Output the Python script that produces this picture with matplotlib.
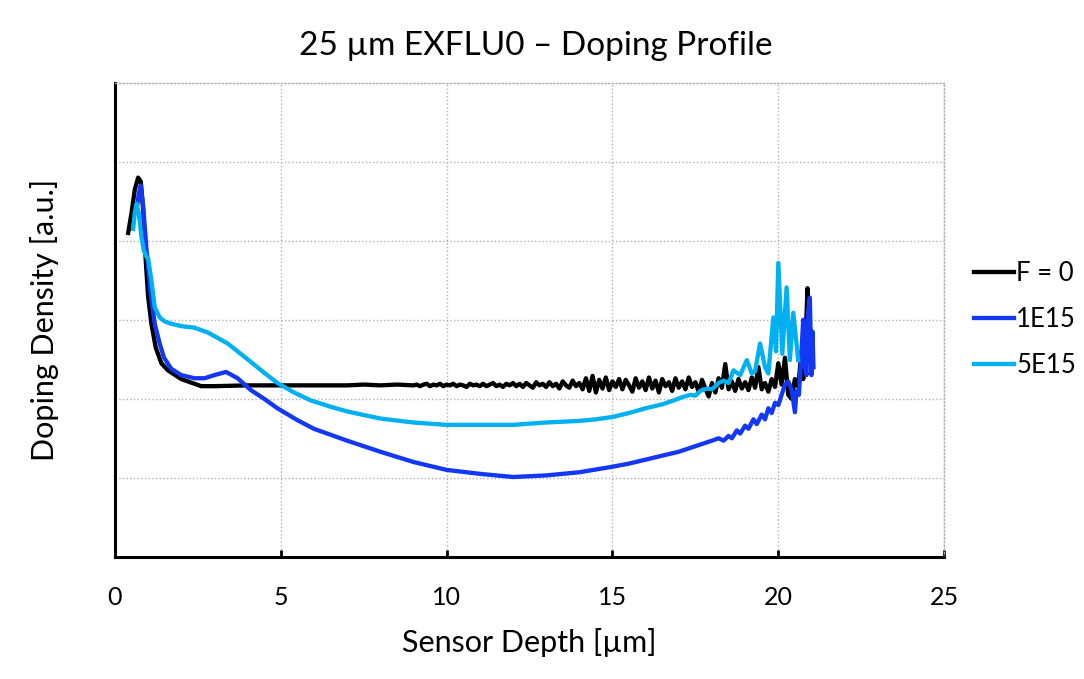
import matplotlib.pyplot as plt

plt.rcParams['font.family'] = ['Lato', 'DejaVu Sans']

# F = 0 (black)
x_f0 = [0.4, 0.5, 0.6, 0.7, 0.78, 0.85, 0.93, 1.0, 1.1, 1.23, 1.4, 1.6, 2.0, 2.6,
        3.0, 4.0, 5.0, 6.0, 7.0, 7.5, 8.0, 8.5] + \
       [round(9.0 + 0.1 * i, 2) for i in range(118)] + [20.75, 20.8, 20.88, 20.95, 21.0]
y_f0 = [4.10, 4.35, 4.65, 4.80, 4.75, 4.40, 3.75, 3.30, 2.95, 2.65, 2.45, 2.36, 2.25, 2.16,
        2.16, 2.17, 2.17, 2.17, 2.17, 2.18, 2.17, 2.18,
        2.17, 2.18, 2.16, 2.18, 2.19, 2.16, 2.18, 2.17, 2.19, 2.16, 2.18,
        2.17, 2.19, 2.16, 2.18, 2.17, 2.15, 2.19, 2.17, 2.18, 2.16,
        2.19, 2.16, 2.18, 2.20, 2.16, 2.18, 2.15, 2.19, 2.17, 2.20,
        2.16, 2.19, 2.15, 2.20, 2.17, 2.14, 2.21, 2.17, 2.19, 2.15,
        2.21, 2.16, 2.19, 2.13, 2.22, 2.17, 2.14, 2.23, 2.16, 2.20,
        2.12, 2.26, 2.10, 2.29, 2.08, 2.24, 2.13, 2.27, 2.11, 2.22,
        2.15, 2.25, 2.12, 2.24, 2.17, 2.09, 2.26, 2.14, 2.22, 2.11,
        2.27, 2.13, 2.23, 2.08, 2.25, 2.16, 2.21, 2.10, 2.26, 2.14,
        2.22, 2.12, 2.27, 2.15, 2.21, 2.09, 2.24, 2.13, 2.03, 2.20,
        2.08, 2.26, 2.14, 2.44, 2.12, 2.22, 2.10, 2.25, 2.13, 2.21,
        2.11, 2.27, 2.14, 2.40, 2.12, 2.20, 2.09, 2.25, 2.15, 2.45,
        2.18, 2.52, 2.05, 2.00, 2.25, 2.15, 2.60,
        2.25, 2.50, 3.40, 2.90, 2.35]

# 1E15 (blue)
x_1e15 = [0.65, 0.72, 0.78, 0.85, 0.95, 1.08, 1.2, 1.35, 1.48, 1.7, 2.0, 2.4, 2.7, 3.0,
          3.35, 3.7, 4.1, 4.5, 4.9, 5.5, 6.0, 7.0, 8.0, 9.0, 10.0, 11.0, 12.0, 13.0,
          14.0, 15.0, 15.5, 16.0, 16.5, 17.0, 17.5, 18.0, 18.2, 18.35, 18.5, 18.6,
          18.75, 18.85, 19.0, 19.1, 19.25, 19.35, 19.5, 19.6, 19.7, 19.8, 19.9, 20.0,
          20.1, 20.2, 20.3, 20.4, 20.5, 20.55, 20.62, 20.7, 20.75, 20.8, 20.85, 20.9,
          20.95, 21.0, 21.03, 21.06]
y_1e15 = [4.38, 4.60, 4.70, 4.45, 3.90, 3.33, 2.95, 2.70, 2.52, 2.38, 2.30, 2.26, 2.26, 2.30,
          2.34, 2.26, 2.11, 2.00, 1.88, 1.73, 1.62, 1.47, 1.33, 1.20, 1.10, 1.05, 1.01, 1.03,
          1.07, 1.14, 1.18, 1.23, 1.28, 1.33, 1.40, 1.47, 1.50, 1.47, 1.53, 1.50,
          1.60, 1.56, 1.66, 1.62, 1.74, 1.68, 1.80, 1.74, 1.88, 1.82, 1.95, 1.92,
          2.05, 2.18, 2.22, 2.12, 1.83, 2.10, 2.05, 2.60, 3.00, 2.40, 2.30, 3.10,
          3.28, 2.30, 2.85, 2.40]

# 5E15 (light blue)
x_5e15 = [0.55, 0.6, 0.65, 0.72, 0.8, 0.87, 0.95, 1.0, 1.1, 1.2, 1.35, 1.5, 1.7, 2.0,
          2.4, 2.8, 3.4, 4.0, 4.5, 4.9, 5.4, 5.9, 6.5, 7.0, 8.0, 9.0, 10.0, 11.0, 12.0,
          13.0, 14.0, 14.5, 15.0, 15.5, 16.0, 16.5, 16.85, 17.1, 17.35, 17.5, 17.65,
          17.85, 18.0, 18.2, 18.35, 18.5, 18.65, 18.85, 19.05, 19.2, 19.3, 19.45, 19.6,
          19.7, 19.85, 19.93, 20.0, 20.12, 20.25, 20.35, 20.45, 20.6]
y_5e15 = [4.15, 4.35, 4.47, 4.35, 4.05, 3.88, 3.80, 3.78, 3.50, 3.16, 3.03, 2.98, 2.95, 2.92,
          2.90, 2.84, 2.70, 2.50, 2.33, 2.20, 2.08, 1.98, 1.90, 1.84, 1.75, 1.70, 1.67, 1.67, 1.67,
          1.70, 1.72, 1.74, 1.77, 1.82, 1.88, 1.93, 1.98, 2.02, 2.05, 2.04, 2.10,
          2.13, 2.12, 2.20, 2.23, 2.20, 2.36, 2.30, 2.49, 2.32, 2.35, 2.70, 2.40,
          2.32, 3.03, 2.60, 3.72, 2.57, 3.41, 2.49, 3.09, 2.49]

fig = plt.figure(figsize=(10.84, 6.79), dpi=100)
ax = fig.add_axes([0.106, 0.180, 0.765, 0.698])

ax.plot(x_f0, y_f0, color='black', lw=3.1, label='F = 0')
ax.plot(x_1e15, y_1e15, color='#1238F5', lw=3.1, label='1E15')
ax.plot(x_5e15, y_5e15, color='#00B0F0', lw=3.1, label='5E15')

ax.set_xlim(0, 25)
ax.set_ylim(0, 6)
ax.set_xticks([0, 5, 10, 15, 20, 25])
ax.set_yticks([1, 2, 3, 4, 5])
ax.tick_params(axis='x', direction='in', length=5, width=2, labelsize=18, pad=21)
ax.tick_params(axis='y', length=0, labelleft=False)
ax.grid(True, color='#b0b0b0', linestyle=':', linewidth=1)
ax.set_axisbelow(True)

for side in ['left', 'bottom']:
    ax.spines[side].set_linewidth(2.2)
for side in ['top', 'right']:
    ax.spines[side].set_color('#b0b0b0')
    ax.spines[side].set_linestyle(':')
    ax.spines[side].set_linewidth(1)

ax.set_xlabel('Sensor Depth [µm]', fontsize=22, labelpad=14)
ax.set_ylabel('Doping Density [a.u.]', fontsize=22, labelpad=40)
fig.text(0.494, 0.932, '25 µm EXFLU0 – Doping Profile', fontsize=24,
         ha='center', va='center')

ax.legend(loc='center left', bbox_to_anchor=(0.889, 0.53), bbox_transform=fig.transFigure,
          frameon=False, fontsize=18.5, handlelength=1.55, handletextpad=0.1,
          labelspacing=0.82, borderaxespad=0)

fig.savefig('out.png', dpi=100)
